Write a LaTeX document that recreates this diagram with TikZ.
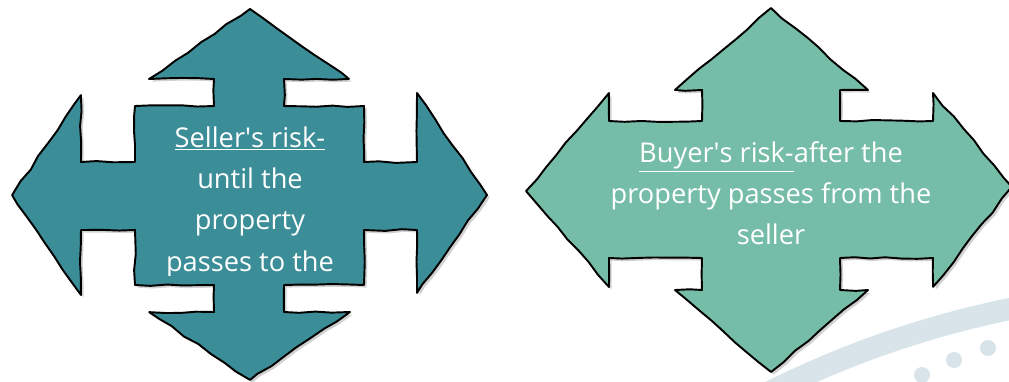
\documentclass[tikz,border=0pt]{standalone}
\usepackage{fontspec}
\setmainfont{Open Sans}
\usetikzlibrary{decorations.pathmorphing}
\usetikzlibrary{calc}
\definecolor{sellerteal}{HTML}{3B8D97}
\definecolor{buyergreen}{HTML}{76BDA8}
\definecolor{swooshgrey}{HTML}{D8E3EA}

\begin{document}
\begin{tikzpicture}[x = 0.02cm, y = -0.02cm,
    wobbly/.style = {decorate, decoration = {random steps, segment length = 9pt, amplitude = 0.6pt}, line width = 1.1pt, line join = round},
    shadowed/.style = {preaction = {fill = black!40, opacity = 0.45, transform canvas = {shift = {(1.5pt, -1.5pt)}}}},
    risktext/.style = {text = white, align = center, inner sep = 0pt, font = \fontsize{15.5}{23.3}\selectfont}]
    \pgfmathsetseed{11}
    \useasboundingbox (0,0) rectangle (1009,382);

    % The swoosh in the corner
        \draw[swooshgrey, line width = 0.44cm] (750,402) .. controls (850,350) and (940,322) .. (1030,305);
        \fill[swooshgrey] (922,375) circle (8);
        \fill[swooshgrey] (954,360) circle (8);
        \fill[swooshgrey] (988,348) circle (8);

    % Seller's arrow
        \draw[wobbly, shadowed, fill = sellerteal] (250,9) -- (349,79) -- (284,79) -- (284,106) -- (364,106) -- (364,162) -- (417,162) -- (417,93) -- (487,195) -- (417,293) -- (417,230) -- (364,230) -- (364,285) -- (284,285) -- (284,312) -- (350,312) -- (250,380) -- (149,312) -- (214,312) -- (214,285) -- (135,285) -- (135,230) -- (81,230) -- (81,295) -- (12,195) -- (81,95) -- (81,162) -- (135,162) -- (135,106) -- (214,106) -- (214,79) -- (149,79) -- cycle;
        \begin{scope}
            % the last line runs out of the box
            \clip (135,106) rectangle (364,275);
            \node[risktext, anchor = north, font = \fontsize{15.5}{23.6}\selectfont] (seller) at (250,126) {\underline{Seller\textquotesingle s risk-}\\until the\\property\\passes to the};
        \end{scope}

    % Buyer's arrow
        \draw[wobbly, shadowed, fill = buyergreen] (771,8) -- (868,90) -- (840,90) -- (840,121) -- (933,121) -- (933,93) -- (1012,187) -- (933,287) -- (933,258) -- (840,258) -- (840,290) -- (868,290) -- (771,372) -- (675,290) -- (702,290) -- (702,258) -- (609,258) -- (609,287) -- (526,191) -- (609,93) -- (609,121) -- (702,121) -- (702,90) -- (675,90) -- cycle;
        \node[risktext, anchor = north] (buyer) at (771,141) {\underline{Buyer\textquotesingle s risk-}after the\\property passes from the\\seller};
\end{tikzpicture}
\end{document}
